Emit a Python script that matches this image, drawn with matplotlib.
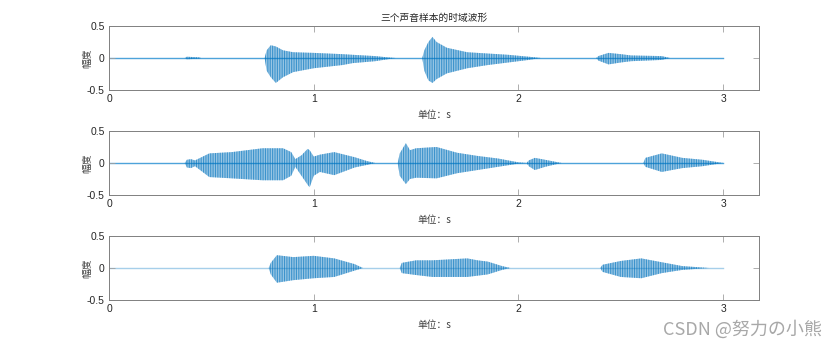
import matplotlib
matplotlib.use('Agg')
import matplotlib.pyplot as plt

plt.rcParams['font.family'] = ['Liberation Sans', 'Noto Sans CJK SC', 'DejaVu Sans']
plt.rcParams['hatch.linewidth'] = 0.8

# envelopes (time in s, upper / lower amplitude)
t1 = [0, 0.37, 0.38, 0.41, 0.44, 0.45, 0.76, 0.77, 0.79, 0.815, 0.85, 0.9, 1.0, 1.14, 1.19, 1.3, 1.36, 1.40,
      1.53, 1.54, 1.56, 1.58, 1.6, 1.65, 1.75, 1.85, 1.95, 2.05, 2.11, 2.38, 2.39, 2.44, 2.5, 2.55, 2.7, 2.74, 3.0]
up1 = [0, 0, 0.02, 0.015, 0.01, 0, 0, 0.12, 0.2, 0.18, 0.12, 0.09, 0.08, 0.06, 0.05, 0.03, 0.01, 0,
       0, 0.12, 0.25, 0.33, 0.25, 0.16, 0.09, 0.07, 0.05, 0.02, 0, 0, 0.03, 0.08, 0.06, 0.04, 0.03, 0, 0]
lo1 = [0, 0, -0.02, -0.015, -0.01, 0, 0, -0.2, -0.3, -0.39, -0.3, -0.22, -0.16, -0.11, -0.08, -0.05, -0.02, 0,
       0, -0.2, -0.35, -0.39, -0.33, -0.24, -0.16, -0.11, -0.07, -0.03, 0, 0, -0.04, -0.1, -0.07, -0.05, -0.03, 0, 0]

t2 = [0, 0.37, 0.38, 0.40, 0.42, 0.49, 0.6, 0.75, 0.85, 0.89, 0.91, 0.94, 0.97, 0.98, 1.0, 1.03, 1.1, 1.2, 1.26, 1.30,
      1.41, 1.42, 1.45, 1.47, 1.5, 1.6, 1.7, 1.8, 1.9, 2.0, 2.04, 2.05, 2.08, 2.13, 2.21, 2.61, 2.62, 2.7, 2.8, 2.9, 3.0]
up2 = [0, 0, 0.05, 0.06, 0.04, 0.15, 0.17, 0.23, 0.23, 0.17, 0.06, 0.12, 0.22, 0.2, 0.1, 0.13, 0.17, 0.09, 0.03, 0,
       0, 0.15, 0.31, 0.2, 0.23, 0.25, 0.16, 0.11, 0.07, 0.01, 0, 0.04, 0.08, 0.05, 0, 0, 0.08, 0.15, 0.08, 0.05, 0]
lo2 = [0, 0, -0.07, -0.08, -0.05, -0.22, -0.24, -0.27, -0.27, -0.2, -0.06, -0.2, -0.34, -0.38, -0.2, -0.14, -0.19, -0.07, -0.03, 0,
       0, -0.2, -0.33, -0.25, -0.23, -0.24, -0.16, -0.11, -0.06, -0.01, 0, -0.05, -0.11, -0.06, 0, 0, -0.06, -0.14, -0.08, -0.05, 0]

t3 = [0, 0.78, 0.79, 0.82, 0.9, 1.0, 1.1, 1.2, 1.24, 1.42, 1.43, 1.5, 1.58, 1.75, 1.8, 1.85, 1.92, 1.96,
      2.40, 2.41, 2.5, 2.6, 2.7, 2.8, 2.93, 3.0]
up3 = [0, 0, 0.08, 0.2, 0.17, 0.19, 0.15, 0.06, 0, 0, 0.08, 0.12, 0.12, 0.15, 0.12, 0.1, 0.03, 0,
       0, 0.05, 0.11, 0.15, 0.09, 0.03, 0, 0]
lo3 = [0, 0, -0.1, -0.23, -0.19, -0.16, -0.14, -0.04, 0, 0, -0.08, -0.11, -0.14, -0.14, -0.12, -0.1, -0.03, 0,
       0, -0.06, -0.14, -0.16, -0.08, -0.03, 0, 0]

xticks = [0, 1, 2, 3]
yticks = [-0.5, 0, 0.5]

blue = (0, 0.447, 0.741)
fig = plt.figure(figsize=(8.4, 3.49), dpi=100)

bottoms = [0.7421, 0.4413, 0.1404]
signals = [(t1, up1, lo1), (t2, up2, lo2), (t3, up3, lo3)]
base_colors = ['#4ea3da', '#4ea3da', '#a6cfea']

for k, (t, up, lo) in enumerate(signals):
    ax = fig.add_axes([0.1298, bottoms[k], 0.7738, 0.1834])
    ax.plot([0, 3], [0, 0], color=base_colors[k], lw=1.0, zorder=1)
    ax.fill_between(t, lo, up, facecolor=blue + (0.4,), edgecolor='none', zorder=2)
    ax.fill_between(t, lo, up, facecolor='none', hatch='|' * 7,
                    edgecolor=blue + (0.6,), linewidth=0, zorder=3)
    ax.set_xlim(0, 3.175)
    ax.set_ylim(-0.5, 0.5)
    ax.set_xticks(xticks)
    ax.set_yticks(yticks)
    ax.set_xticklabels(['0', '1', '2', '3'])
    ax.set_yticklabels(['-0.5', '0', '0.5'])
    ax.tick_params(direction='in', top=True, right=True, length=4, width=0.6,
                   labelcolor='#262626', color='#a0a0a0', labelsize=7.5, pad=3)
    for s in ax.spines.values():
        s.set_color('#808080')
        s.set_linewidth(0.7)
    ax.set_xlabel('单位：s', fontsize=7, color='#404040', labelpad=4,
                  family=['Noto Sans CJK SC', 'DejaVu Sans'])
    ax.set_ylabel('幅度', fontsize=7, color='#404040',
                  family=['Noto Sans CJK SC', 'DejaVu Sans'])
    ax.yaxis.set_label_coords(-0.026, 0.5)
    if k == 0:
        ax.set_title('三个声音样本的时域波形', fontsize=7, color='#262626', pad=4,
                     family=['Noto Sans CJK SC', 'DejaVu Sans'])

fig.text(0.979, 0.03, 'CSDN @努力の小熊', ha='right', va='bottom', fontsize=13,
         color='#a8a8a8', family=['Noto Sans CJK SC', 'DejaVu Sans'])

fig.savefig('out.png', dpi=100)
